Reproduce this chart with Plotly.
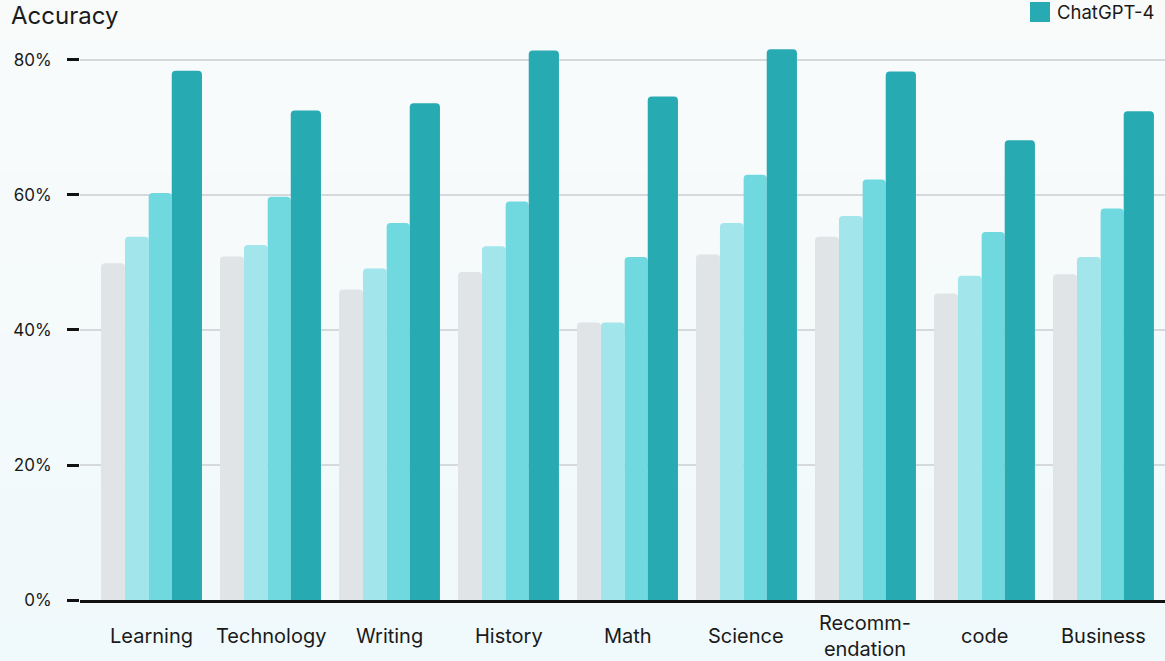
import plotly.graph_objects as go

categories = ["Learning", "Technology", "Writing", "History", "Math",
              "Science", "Recomm-<br>endation", "code", "Business"]
series_names = ["Baseline", "ChatGPT-3", "ChatGPT-3.5", "ChatGPT-4"]
baseline = [49.9, 50.9, 46.0, 48.6, 41.1, 51.2, 53.8, 45.4, 48.25]
gpt3 = [53.8, 52.6, 49.1, 52.4, 41.1, 55.85, 56.9, 48.05, 50.8]
gpt35 = [60.3, 59.75, 55.85, 59.05, 50.8, 63.0, 62.3, 54.5, 58.0]
gpt4 = [78.4, 72.5, 73.6, 81.4, 74.6, 81.6, 78.3, 68.1, 72.4]
y_ticks = [0, 20, 40, 60, 80]
y_tick_labels = ["0%", "20%", "40%", "60%", "80%"]

colors = ["#e1e4e6", "#a2e6eb", "#70d9df", "#28aab2"]
offsets = [-0.424, -0.223, -0.024, 0.170]
widths = [0.201, 0.199, 0.194, 0.254]

FONT = "Inter, Lato, sans-serif"
TXT = "#1a1a1a"

# plot-area pixel geometry helpers (plot area: x 80..1165, y 40..600)
def px_x(p):
    return (p - 80) / 1085.0

def px_y(p):
    return (600 - p) / 560.0

fig = go.Figure()
for name, vals, col, off, w in zip(series_names, [baseline, gpt3, gpt35, gpt4],
                                   colors, offsets, widths):
    fig.add_trace(go.Bar(
        x=categories, y=vals, name=name,
        marker=dict(color=col, line=dict(width=0)),
        offset=off, width=w,
        showlegend=False,
        hovertemplate="%{x}: %{y}%<extra>" + name + "</extra>",
    ))

# background vertical gradient
shapes = []
n = 30
top = (249, 251, 251)
bot = (240, 249, 251)
for i in range(n):
    t = i / (n - 1)
    c = tuple(round(top[k] + (bot[k] - top[k]) * t) for k in range(3))
    y1 = 1.08 - i * (1.08 + 0.12) / n
    y0 = 1.08 - (i + 1) * (1.08 + 0.12) / n
    shapes.append(dict(type="rect", xref="paper", yref="paper",
                       x0=-0.1, x1=1.1, y0=y0 - 0.002, y1=y1,
                       fillcolor="rgb(%d,%d,%d)" % c, line=dict(width=0),
                       layer="below"))

# legend swatch for ChatGPT-4
shapes.append(dict(type="rect", xref="paper", yref="paper",
                   x0=px_x(1030), x1=px_x(1050), y0=px_y(22), y1=px_y(2),
                   fillcolor=colors[3], line=dict(width=0), layer="above"))

annotations = [
    dict(text="Accuracy", xref="paper", yref="paper",
         x=px_x(9), y=px_y(16), xanchor="left", yanchor="middle",
         showarrow=False, font=dict(size=24, color=TXT, family=FONT)),
    dict(text="ChatGPT-4", xref="paper", yref="paper",
         x=px_x(1055), y=px_y(12), xanchor="left", yanchor="middle",
         showarrow=False, font=dict(size=18.5, color=TXT, family=FONT)),
]
for cat in categories:
    annotations.append(dict(text=cat, x=cat, xref="x", yref="paper",
                            y=px_y(636), yanchor="middle", xanchor="center",
                            showarrow=False,
                            font=dict(size=20, color=TXT, family=FONT)))

fig.update_layout(
    width=1165, height=661,
    margin=dict(l=80, r=0, t=40, b=61),
    paper_bgcolor="#f5f9fa",
    plot_bgcolor="rgba(0,0,0,0)",
    barmode="overlay",
    barcornerradius=4,
    font=dict(family=FONT, color=TXT),
    shapes=shapes,
    annotations=annotations,
    showlegend=False,
    xaxis=dict(range=[-0.601, 8.517], showticklabels=False, ticks="",
               showgrid=False, showline=True, linecolor="#111111", linewidth=2.5,
               zeroline=False, fixedrange=True),
    yaxis=dict(range=[0, 82.96], tickvals=y_ticks, ticktext=y_tick_labels,
               ticks="outside", ticklen=12, tickwidth=2.5, tickcolor="#111111",
               ticklabelstandoff=12,
               tickfont=dict(size=17, color=TXT),
               showgrid=True, gridcolor="#d6d9dc", gridwidth=2,
               zeroline=False, showline=False, fixedrange=True),
)

fig.write_html("out.html")
